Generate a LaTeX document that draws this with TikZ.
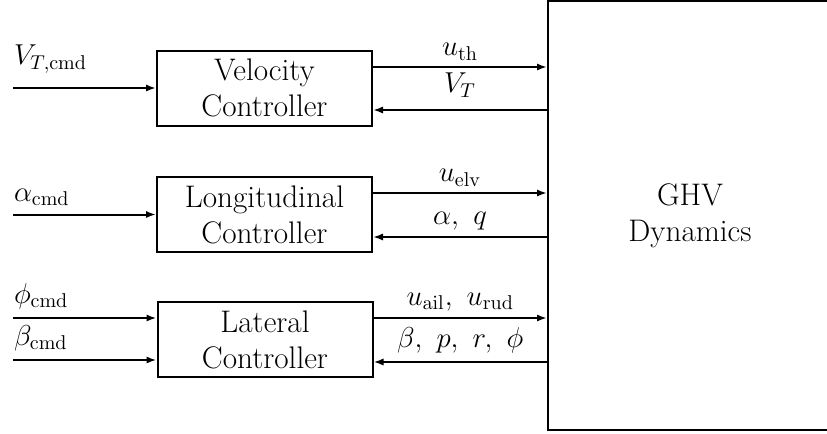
\documentclass[tikz,border=0pt]{standalone}
\usetikzlibrary{arrows.meta}
\begin{document}
\begin{tikzpicture}[x=0.5pt,y=-0.5pt,
  every node/.style={font=\fontsize{14.4}{17}\selectfont},
  ctrl/.style={draw,line width=1pt,minimum width=107.5pt,minimum height=37.5pt,align=center,inner sep=0pt,font=\fontsize{15.6}{18}\selectfont},
  plant/.style={draw,line width=1pt,minimum width=142pt,minimum height=214.5pt,align=center,inner sep=0pt,font=\fontsize{15.6}{18}\selectfont},
  arr/.style={line width=1pt,-{Latex[length=5pt,width=3.6pt]}},
  lbl/.style={midway,above,inner sep=3pt}]
\clip (0,0) rectangle (827,434);
\node[ctrl] (vel) at (264.5,88) {Velocity\\Controller};
\node[ctrl] (lon) at (264.5,214.5) {Longitudinal\\Controller};
\node[ctrl] (lat) at (265,339.5) {Lateral\\Controller};
\node[plant] (ghv) at (690,215.5) {GHV\\Dynamics};
\coordinate (left) at (13,0);
% velocity loop
\path (vel.east) ++(0,-21) coordinate (v1);
\path (vel.east) ++(0,22) coordinate (v2);
\draw[arr] (v1) -- (v1 -| ghv.west) node[lbl] {$u_{\mathrm{th}}$};
\draw[arr] (v2 -| ghv.west) -- (v2) node[lbl,inner ysep=6pt] {$V_T$};
\draw[arr] (vel.west -| left) -- (vel.west) node[pos=0,anchor=south west,inner xsep=0pt,inner ysep=7pt] {$V_{T,\mathrm{cmd}}$};
% longitudinal loop
\path (lon.east) ++(0,-21.5) coordinate (o1);
\path (lon.east) ++(0,22.5) coordinate (o2);
\draw[arr] (o1) -- (o1 -| ghv.west) node[lbl] {$u_{\mathrm{elv}}$};
\draw[arr] (o2 -| ghv.west) -- (o2) node[lbl] {$\alpha,\ q$};
\draw[arr] (lon.west -| left) -- (lon.west) node[pos=0,anchor=south west,inner xsep=0pt,inner ysep=4pt] {$\alpha_{\mathrm{cmd}}$};
% lateral loop
\path (lat.east) ++(0,-21.5) coordinate (a1);
\path (lat.east) ++(0,22.5) coordinate (a2);
\draw[arr] (a1) -- (a1 -| ghv.west) node[lbl] {$u_{\mathrm{ail}},\ u_{\mathrm{rud}}$};
\draw[arr] (a2 -| ghv.west) -- (a2) node[lbl,inner ysep=4pt] {$\beta,\ p,\ r,\ \phi$};
\path (lat.west) ++(0,-21.5) coordinate (i1);
\path (lat.west) ++(0,20.5) coordinate (i2);
\draw[arr] (i1 -| left) -- (i1) node[pos=0,anchor=south west,inner xsep=0pt,inner ysep=4pt] {$\phi_{\mathrm{cmd}}$};
\draw[arr] (i2 -| left) -- (i2) node[pos=0,anchor=south west,inner xsep=0pt,inner ysep=4pt] {$\beta_{\mathrm{cmd}}$};
\end{tikzpicture}
\end{document}
